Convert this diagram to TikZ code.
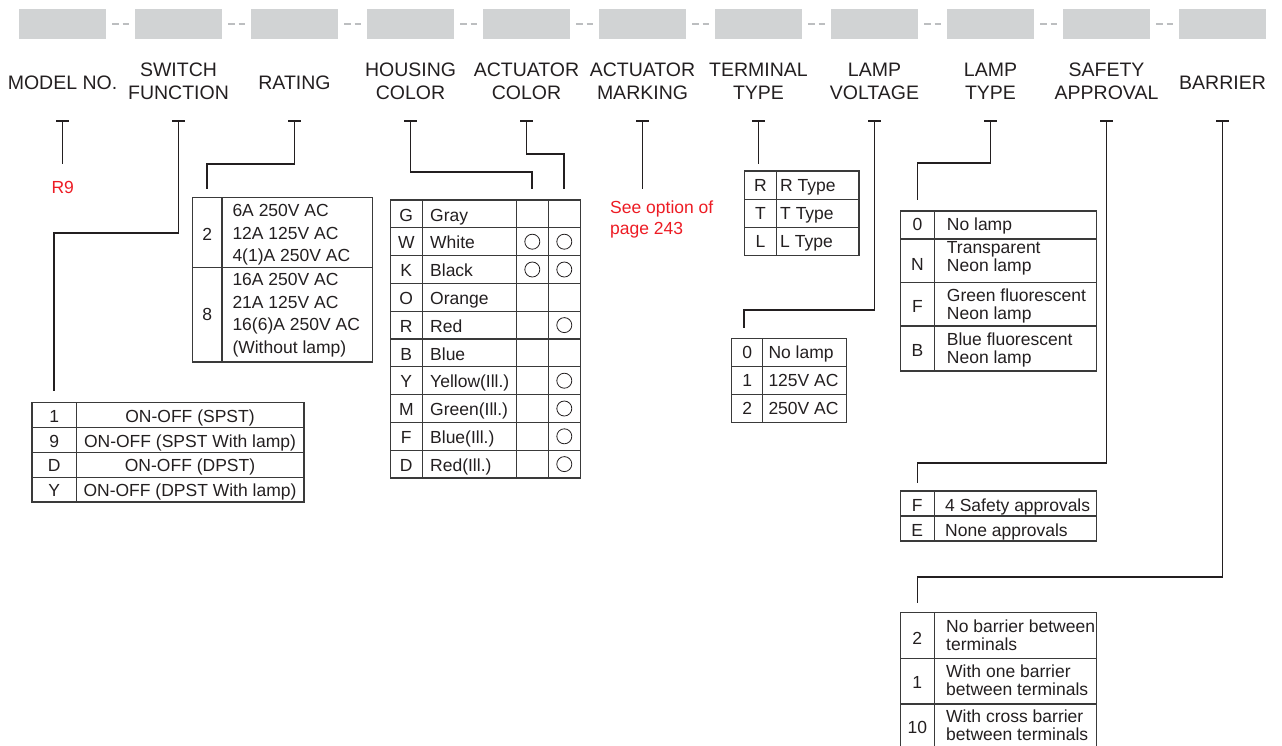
\documentclass[tikz,border=0pt]{standalone}
\usepackage{fontspec}
\setmainfont{Liberation Sans}

\definecolor{ink}{HTML}{231F20}
\definecolor{barfill}{HTML}{D1D3D4}
\definecolor{gapgray}{HTML}{BCBEC0}
\definecolor{notered}{HTML}{ED1C24}
\definecolor{tabline}{HTML}{3A3A3A}

\tikzset{
  bar/.style={fill=barfill,minimum width=87pt,minimum height=30pt,inner sep=0pt},
  hdr/.style={font=\fontsize{19.5}{22.5}\selectfont,text=ink,align=center,inner sep=0pt,anchor=north},
  cell/.style={font=\fontsize{17.5}{22.5}\selectfont,text=ink,inner sep=0pt},
  lines/.style={cell,align=left,anchor=north west},
  twoline/.style={lines,font=\fontsize{17.5}{18}\selectfont},
  note/.style={font=\fontsize{17.5}{21}\selectfont,text=notered,inner sep=0pt},
  tab/.style={draw=tabline,line width=1.2pt},
  link/.style={draw=ink,line width=1.7pt},
  gapline/.style={draw=gapgray,line width=1.5pt,dash pattern=on 6.8pt off 3.6pt},
  ring/.style={circle,draw=ink,line width=0.8pt,minimum size=15pt,inner sep=0pt}
}

\begin{document}
\begin{tikzpicture}[x=1pt,y=-1pt]
  \useasboundingbox (0,0) rectangle (1282,745);

  \foreach[evaluate={62.5+116*\i} as \x] \i/\ty/\txt in {0/76/{MODEL NO.},1/63/{SWITCH\\FUNCTION},2/76/RATING,3/63/{HOUSING\\COLOR},4/63/{ACTUATOR\\COLOR},5/63/{ACTUATOR\\MARKING},6/63/{TERMINAL\\TYPE},7/63/{LAMP\\VOLTAGE},8/63/{LAMP\\TYPE},9/63/{SAFETY\\APPROVAL},10/76/BARRIER} {
    \node[bar] (box\i) at (\x,24) {};
    \node[hdr] (hd\i) at (\x,\ty) {\txt};
    \coordinate (t\i) at (\x,121);
    \draw[link] ([xshift=-6.5pt]t\i) -- ([xshift=6.5pt]t\i);
  }
  \foreach[evaluate={62.5+116*\i} as \x] \i in {0,...,9}
    \draw[gapline] (\x+49.7,24) -- ++(17,0);

  % model no.
  \node[note,anchor=base] (r9) at (62.7,193.3) {R9};

  % switch function
  \draw[tab] (32,402.7) rectangle (304,501.9);
  \foreach \y in {427.5,452.3,477.1} \draw[tab] (32,\y) -- (304,\y);
  \draw[tab] (76.3,402.7) -- (76.3,501.9);
  \foreach \k/\txt [count=\n from 0] in {1/{ON-OFF (SPST)},9/{ON-OFF (SPST With lamp)},D/{ON-OFF (DPST)},Y/{ON-OFF (DPST With lamp)}} {
    \node[cell,anchor=base] (sw\n) at (54.2,422.5+24.6*\n) {\k};
    \node[cell,anchor=base] (swtxt\n) at (190,422.5+24.6*\n) {\txt};
  }

  % rating
  \draw[tab] (192.3,197.3) rectangle (372.3,362);
  \draw[tab] (192.3,267.3) -- (372.3,267.3);
  \draw[tab] (222,197.3) -- (222,362);
  \node[cell,anchor=base] (rt1) at (207.2,240) {2};
  \node[cell,anchor=base] (rt2) at (207.2,320) {8};
  \node[lines] (rttxt1) at (232.3,204.2) {6A 250V AC\\12A 125V AC\\4(1)A 250V AC};
  \node[lines] (rttxt2) at (232.3,273.1) {16A 250V AC\\21A 125V AC\\16(6)A 250V AC\\(Without lamp)};

  % housing / actuator color
  \draw[tab] (390.3,200) rectangle (580.3,478);
  \foreach \n in {1,...,9} \draw[tab] (390.3,200+27.8*\n) -- (580.3,200+27.8*\n);
  \foreach \x in {422.3,516.3,548.3} \draw[tab] (\x,200) -- (\x,478);
  \foreach \k/\cname/\hc/\ac [count=\n from 0] in {G/Gray/0/0,W/White/1/1,K/Black/1/1,O/Orange/0/0,R/Red/0/1,B/Blue/0/0,Y/{Yellow(Ill.)}/0/1,M/{Green(Ill.)}/0/1,F/{Blue(Ill.)}/0/1,D/{Red(Ill.)}/0/1} {
    \node[cell,anchor=base] (hc\n) at (406.3,221+27.8*\n) {\k};
    \node[cell,anchor=base west] (hctxt\n) at (430,221+27.8*\n) {\cname};
    \ifnum\hc=1 \node[ring] (hring\n) at (532.3,213.9+27.8*\n) {};\fi
    \ifnum\ac=1 \node[ring] (aring\n) at (564.3,213.9+27.8*\n) {};\fi
  }

  % actuator marking
  \node[note,align=left,anchor=north west] (seeopt) at (610,200.5) {See option of\\page 243};

  % terminal type
  \draw[tab] (744.3,171) rectangle (859,255.6);
  \foreach \y in {199.2,227.4} \draw[tab] (744.3,\y) -- (859,\y);
  \draw[tab] (776.7,171) -- (776.7,255.6);
  \foreach \k [count=\n from 0] in {R,T,L} {
    \node[cell,anchor=base] (tt\n) at (760.5,191.7+28*\n) {\k};
    \node[cell,anchor=base west] (tttxt\n) at (780,191.7+28*\n) {\k\ Type};
  }

  % lamp voltage
  \draw[tab] (731.7,338.3) rectangle (846.7,422.3);
  \foreach \y in {366.3,394.3} \draw[tab] (731.7,\y) -- (846.7,\y);
  \draw[tab] (762.7,338.3) -- (762.7,422.3);
  \foreach \k/\txt [count=\n from 0] in {0/No lamp,1/125V AC,2/250V AC} {
    \node[cell,anchor=base] (lv\n) at (747.2,358.7+28.1*\n) {\k};
    \node[cell,anchor=base west] (lvtxt\n) at (768.3,358.7+28.1*\n) {\txt};
  }

  % lamp type
  \draw[tab] (900.7,211) rectangle (1096.7,371);
  \foreach \y in {239,282.5,326} \draw[tab] (900.7,\y) -- (1096.7,\y);
  \draw[tab] (934.3,211) -- (934.3,371);
  \node[cell,anchor=base] (lt0) at (917.5,230.7) {0};
  \node[cell,anchor=base west] (lttxt0) at (946.7,230.7) {No lamp};
  \foreach \k/\cy/\ty/\txt [count=\n from 1] in {N/270/241.4/{Transparent\\Neon lamp},F/312.7/288.7/{Green fluorescent\\Neon lamp},B/356.7/333.1/{Blue fluorescent\\Neon lamp}} {
    \node[cell,anchor=base] (lt\n) at (917.5,\cy) {\k};
    \node[twoline] (lttxt\n) at (946.7,\ty) {\txt};
  }

  % safety approval
  \draw[tab] (900.3,491) rectangle (1096.7,541);
  \draw[tab] (900.3,516) -- (1096.7,516);
  \draw[tab] (934.3,491) -- (934.3,541);
  \foreach \k/\txt [count=\n from 0] in {F/4 Safety approvals,E/None approvals} {
    \node[cell,anchor=base] (sa\n) at (917.3,511.5+24.5*\n) {\k};
    \node[cell,anchor=base west] (satxt\n) at (945,511.5+24.5*\n) {\txt};
  }

  % barrier
  \draw[tab] (900.3,612.7) rectangle (1096.7,749.7);
  \foreach \y in {658.3,704} \draw[tab] (900.3,\y) -- (1096.7,\y);
  \draw[tab] (934.3,612.7) -- (934.3,749.7);
  \foreach \k/\cy/\ty/\txt [count=\n from 0] in {2/644.3/620.1/{No barrier between\\terminals},1/688.3/664.7/{With one barrier\\between terminals},10/733.3/710.1/{With cross barrier\\between terminals}} {
    \node[cell,anchor=base] (br\n) at (917.3,\cy) {\k};
    \node[twoline] (brtxt\n) at (946,\ty) {\txt};
  }

  % connectors
  \coordinate (mdend) at (62.5,164);
  \coordinate (swend) at (54.2,391);
  \coordinate (rtend) at (207.2,189);
  \coordinate (hcend) at (532.3,189.3);
  \coordinate (acend) at (564.3,189.3);
  \coordinate (amend) at (642.5,189.3);
  \coordinate (ttend) at (758.5,164);
  \coordinate (lvend) at (744.3,328.3);
  \coordinate (ltend) at (917.5,200);
  \coordinate (saend) at (917.5,482.7);
  \coordinate (brend) at (917.5,602.7);

  \draw[link] (t0) -- (mdend);
  \draw[link] (t1) -- ++(0,112) -| (swend);
  \draw[link] (t2) -- ++(0,43) -| (rtend);
  \draw[link] (t3) -- ++(0,51.3) -| (hcend);
  \draw[link] (t4) -- ++(0,33) -| (acend);
  \draw[link] (t5) -- (amend);
  \draw[link] (t6) -- (ttend);
  \draw[link] (t7) -- ++(0,189) -| (lvend);
  \draw[link] (t8) -- ++(0,42.3) -| (ltend);
  \draw[link] (t9) -- ++(0,342.3) -| (saend);
  \draw[link] (t10) -- ++(0,455.7) -| (brend);
\end{tikzpicture}
\end{document}
